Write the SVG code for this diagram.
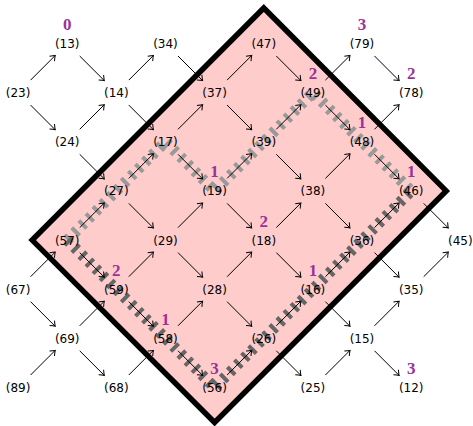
<svg xmlns="http://www.w3.org/2000/svg" width="473" height="426" viewBox="0 0 473 426">
<style>
.n{font-family:"DejaVu Sans",sans-serif;font-size:12px;fill:#000;text-anchor:middle}
.w{font-family:"Liberation Serif",serif;font-size:17px;font-weight:bold;fill:#993399;text-anchor:middle}
.e{fill:none;stroke:#000;stroke-width:1;marker-end:url(#ah)}
.g{fill:none;stroke-width:11;stroke-dasharray:4 6}
</style>
<defs>
<marker id="ah" markerUnits="userSpaceOnUse" markerWidth="12" markerHeight="12" viewBox="-6 -6 12 12" refX="0" refY="0" orient="auto">
<path d="M-4.5,-3.5 Q-1.5,-1 0,0 Q-1.5,1 -4.5,3.5" fill="none" stroke="#000" stroke-width="1"/>
</marker>
</defs>
<rect width="473" height="426" fill="#fff"/>
<polygon id="region" points="263.8,8 446.2,190.9 214.6,422.5 32.2,240.1" fill="#ffcccc" stroke="#000" stroke-width="5.5" stroke-linejoin="miter"/>
<g id="paths">
<polyline class="g" stroke="#999999" points="67.2,240.1 116.3,190.9 165.5,141.8 214.6,190.9 263.8,141.8 312.9,92.6 362,141.8 411.2,190.9"/>
<polyline class="g" stroke="#666666" points="67.2,240.1 116.3,289.2 165.5,338.3 214.6,387.5 263.8,338.3 312.9,289.2 362,240.1 411.2,190.9"/>
</g>
<g id="connectors">
<path class="e" d="M79.7 56l24.6 24.6"/><path class="e" d="M178 56l24.6 24.6"/><path class="e" d="M276.3 56l24.6 24.6"/><path class="e" d="M374.5 56l24.6 24.6"/>
<path class="e" d="M30.6 80.1l24.6 -24.6"/><path class="e" d="M128.8 80.1l24.6 -24.6"/><path class="e" d="M227.1 80.1l24.6 -24.6"/><path class="e" d="M325.4 80.1l24.6 -24.6"/>
<path class="e" d="M30.6 105.1l24.6 24.6"/><path class="e" d="M128.8 105.1l24.6 24.6"/><path class="e" d="M227.1 105.1l24.6 24.6"/><path class="e" d="M325.4 105.1l24.6 24.6"/>
<path class="e" d="M79.7 129.3l24.6 -24.6"/><path class="e" d="M178 129.3l24.6 -24.6"/><path class="e" d="M276.3 129.3l24.6 -24.6"/><path class="e" d="M374.5 129.3l24.6 -24.6"/>
<path class="e" d="M79.7 154.3l24.6 24.6"/><path class="e" d="M178 154.3l24.6 24.6"/><path class="e" d="M276.3 154.3l24.6 24.6"/><path class="e" d="M374.5 154.3l24.6 24.6"/>
<path class="e" d="M128.8 178.4l24.6 -24.6"/><path class="e" d="M227.1 178.4l24.6 -24.6"/><path class="e" d="M325.4 178.4l24.6 -24.6"/>
<path class="e" d="M128.8 203.4l24.6 24.6"/><path class="e" d="M227.1 203.4l24.6 24.6"/><path class="e" d="M325.4 203.4l24.6 24.6"/><path class="e" d="M423.7 203.4l24.6 24.6"/>
<path class="e" d="M79.7 227.6l24.6 -24.6"/><path class="e" d="M178 227.6l24.6 -24.6"/><path class="e" d="M276.3 227.6l24.6 -24.6"/><path class="e" d="M374.5 227.6l24.6 -24.6"/>
<path class="e" d="M79.7 252.6l24.6 24.6"/><path class="e" d="M178 252.6l24.6 24.6"/><path class="e" d="M276.3 252.6l24.6 24.6"/><path class="e" d="M374.5 252.6l24.6 24.6"/>
<path class="e" d="M30.6 276.7l24.6 -24.6"/><path class="e" d="M128.8 276.7l24.6 -24.6"/><path class="e" d="M227.1 276.7l24.6 -24.6"/><path class="e" d="M325.4 276.7l24.6 -24.6"/><path class="e" d="M423.7 276.7l24.6 -24.6"/>
<path class="e" d="M30.6 301.7l24.6 24.6"/><path class="e" d="M128.8 301.7l24.6 24.6"/><path class="e" d="M227.1 301.7l24.6 24.6"/><path class="e" d="M325.4 301.7l24.6 24.6"/>
<path class="e" d="M79.7 325.8l24.6 -24.6"/><path class="e" d="M178 325.8l24.6 -24.6"/><path class="e" d="M276.3 325.8l24.6 -24.6"/><path class="e" d="M374.5 325.8l24.6 -24.6"/>
<path class="e" d="M79.7 350.8l24.6 24.6"/><path class="e" d="M178 350.8l24.6 24.6"/><path class="e" d="M276.3 350.8l24.6 24.6"/><path class="e" d="M374.5 350.8l24.6 24.6"/>
<path class="e" d="M30.6 375l24.6 -24.6"/><path class="e" d="M128.8 375l24.6 -24.6"/><path class="e" d="M227.1 375l24.6 -24.6"/><path class="e" d="M325.4 375l24.6 -24.6"/>
</g>
<g id="n13"><text class="w" x="67.2" y="30">0</text><text class="n" x="67.2" y="48">(13)</text></g>
<g id="n34"><text class="n" x="165.5" y="48">(34)</text></g>
<g id="n47"><text class="n" x="263.8" y="48">(47)</text></g>
<g id="n79"><text class="w" x="362" y="30">3</text><text class="n" x="362" y="48">(79)</text></g>
<g id="n23"><text class="n" x="18.1" y="97.1">(23)</text></g>
<g id="n14"><text class="n" x="116.3" y="97.1">(14)</text></g>
<g id="n37"><text class="n" x="214.6" y="97.1">(37)</text></g>
<g id="n49"><text class="w" x="312.9" y="79.1">2</text><text class="n" x="312.9" y="97.1">(49)</text></g>
<g id="n78"><text class="w" x="411.2" y="79.1">2</text><text class="n" x="411.2" y="97.1">(78)</text></g>
<g id="n24"><text class="n" x="67.2" y="146.3">(24)</text></g>
<g id="n17"><text class="n" x="165.5" y="146.3">(17)</text></g>
<g id="n39"><text class="n" x="263.8" y="146.3">(39)</text></g>
<g id="n48"><text class="w" x="362" y="128.3">1</text><text class="n" x="362" y="146.3">(48)</text></g>
<g id="n27"><text class="n" x="116.3" y="195.4">(27)</text></g>
<g id="n19"><text class="w" x="214.6" y="177.4">1</text><text class="n" x="214.6" y="195.4">(19)</text></g>
<g id="n38"><text class="n" x="312.9" y="195.4">(38)</text></g>
<g id="n46"><text class="w" x="411.2" y="177.4">1</text><text class="n" x="411.2" y="195.4">(46)</text></g>
<g id="n57"><text class="n" x="67.2" y="244.6">(57)</text></g>
<g id="n29"><text class="n" x="165.5" y="244.6">(29)</text></g>
<g id="n18"><text class="w" x="263.8" y="226.6">2</text><text class="n" x="263.8" y="244.6">(18)</text></g>
<g id="n36"><text class="n" x="362" y="244.6">(36)</text></g>
<g id="n45"><text class="n" x="460.3" y="244.6">(45)</text></g>
<g id="n67"><text class="n" x="18.1" y="293.7">(67)</text></g>
<g id="n59"><text class="w" x="116.3" y="275.7">2</text><text class="n" x="116.3" y="293.7">(59)</text></g>
<g id="n28"><text class="n" x="214.6" y="293.7">(28)</text></g>
<g id="n16"><text class="w" x="312.9" y="275.7">1</text><text class="n" x="312.9" y="293.7">(16)</text></g>
<g id="n35"><text class="n" x="411.2" y="293.7">(35)</text></g>
<g id="n69"><text class="n" x="67.2" y="342.8">(69)</text></g>
<g id="n58"><text class="w" x="165.5" y="324.8">1</text><text class="n" x="165.5" y="342.8">(58)</text></g>
<g id="n26"><text class="n" x="263.8" y="342.8">(26)</text></g>
<g id="n15"><text class="n" x="362" y="342.8">(15)</text></g>
<g id="n89"><text class="n" x="18.1" y="392">(89)</text></g>
<g id="n68"><text class="n" x="116.3" y="392">(68)</text></g>
<g id="n56"><text class="w" x="214.6" y="374">3</text><text class="n" x="214.6" y="392">(56)</text></g>
<g id="n25"><text class="n" x="312.9" y="392">(25)</text></g>
<g id="n12"><text class="w" x="411.2" y="374">3</text><text class="n" x="411.2" y="392">(12)</text></g>
</svg>
